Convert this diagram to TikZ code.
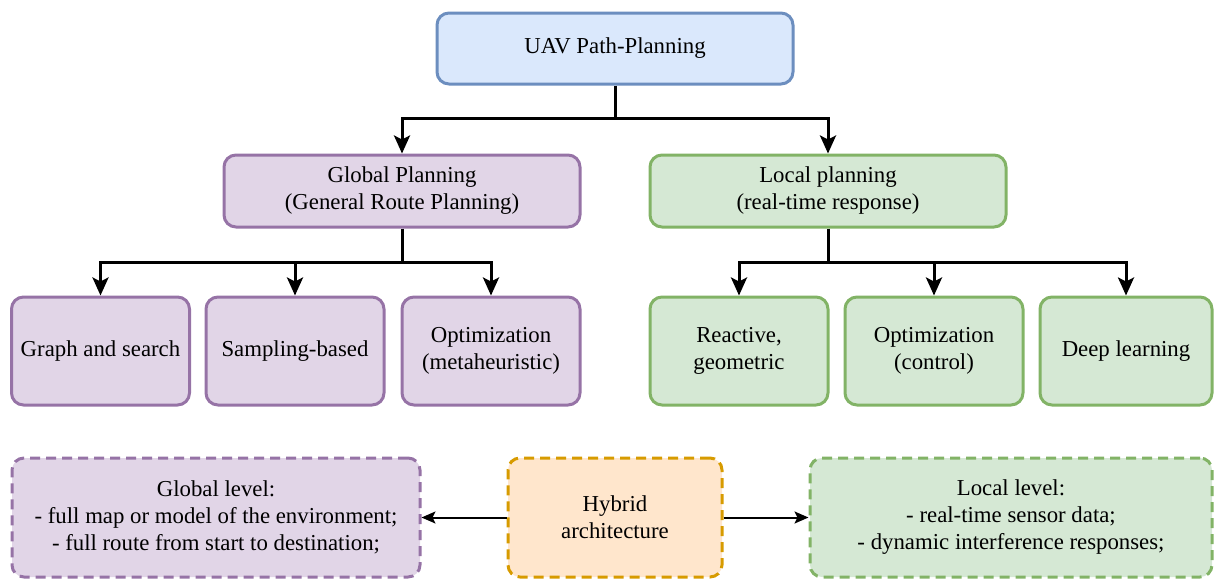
\documentclass[tikz,border=0pt]{standalone}
\usepackage{fontspec}
\setmainfont{Liberation Serif}
\usetikzlibrary{positioning}
\usetikzlibrary{arrows.meta}

\definecolor{bluefill}{HTML}{DAE8FC}
\definecolor{blueline}{HTML}{6C8EBF}
\definecolor{purplefill}{HTML}{E1D5E7}
\definecolor{purpleline}{HTML}{9673A6}
\definecolor{greenfill}{HTML}{D5E8D4}
\definecolor{greenline}{HTML}{82B366}
\definecolor{orangefill}{HTML}{FFE6CC}
\definecolor{orangeline}{HTML}{D79B00}

\begin{document}
\begin{tikzpicture}[x=0.5pt,y=-0.5pt,
	font=\fontsize{11.4}{13.5}\selectfont,
	box/.style={rectangle,rounded corners=6pt,line width=1.5pt,align=center,inner sep=2pt},
	main node/.style={box,draw=blueline,fill=bluefill,minimum width=178pt,minimum height=35.5pt},
	global node/.style={box,draw=purpleline,fill=purplefill},
	local node/.style={box,draw=greenline,fill=greenfill},
	mid node/.style={minimum width=178pt,minimum height=36pt},
	leaf node/.style={minimum width=89pt,minimum height=54pt},
	level node/.style={box,dashed,dash pattern=on 5pt off 3pt,minimum height=59.5pt},
	tree edge/.style={line width=1.5pt,-{Stealth[length=9pt,width=8pt,inset=2pt]}},
	side edge/.style={line width=1pt,-{Stealth[length=7pt,width=6pt,inset=1.5pt]}}]

	\useasboundingbox (0,0) rectangle (1214,578);

	\node[main node] (uav) at (615,48.5) {UAV Path-Planning};

	\node[global node,mid node] (global) at (402,191) {Global Planning\\(General Route Planning)};
	\node[local node,mid node] (local) at (828,191) {Local planning\\(real-time response)};

	\node[global node,leaf node] (graph) at (100.5,351) {Graph and search};
	\node[global node,leaf node] (sampling) at (295,351) {Sampling-based};
	\node[global node,leaf node] (metaheur) at (491,351) {Optimization\\(metaheuristic)};
	\node[local node,leaf node] (reactive) at (739,351) {Reactive,\\geometric};
	\node[local node,leaf node] (control) at (934,351) {Optimization\\(control)};
	\node[local node,leaf node,minimum width=86pt] (deep) at (1126,351) {Deep learning};

	\node[level node,draw=purpleline,fill=purplefill,minimum width=204pt] (globallevel) at (216,517.5)
		{Global level:\\- full map or model of the environment;\\- full route from start to destination;};
	\node[level node,draw=orangeline,fill=orangefill,minimum width=107pt] (hybrid) at (615,517.5)
		{Hybrid\\architecture};
	\node[level node,draw=greenline,fill=greenfill,minimum width=201pt] (locallevel) at (1011,517.5)
		{Local level:\\- real-time sensor data;\\- dynamic interference responses;};

	% tree connectors
	\coordinate (split0) at (615,118);
	\coordinate (split1) at (402,262);
	\coordinate (split2) at (828,262);
	\draw[line width=1.5pt] (uav.south) -- (split0);
	\draw[tree edge] (split0) -| (global.north);
	\draw[tree edge] (split0) -| (local.north);
	\draw[line width=1.5pt] (global.south) -- (split1);
	\draw[tree edge] (split1) -| (graph.north);
	\draw[tree edge] (split1) -| (sampling.north);
	\draw[tree edge] (split1) -| (metaheur.north);
	\draw[line width=1.5pt] (local.south) -- (split2);
	\draw[tree edge] (split2) -| (reactive.north);
	\draw[tree edge] (split2) -| (control.north);
	\draw[tree edge] (split2) -| (deep.north);

	% hybrid links
	\draw[side edge] (hybrid.west) -- (globallevel.east);
	\draw[side edge] (hybrid.east) -- (locallevel.west);
\end{tikzpicture}
\end{document}
